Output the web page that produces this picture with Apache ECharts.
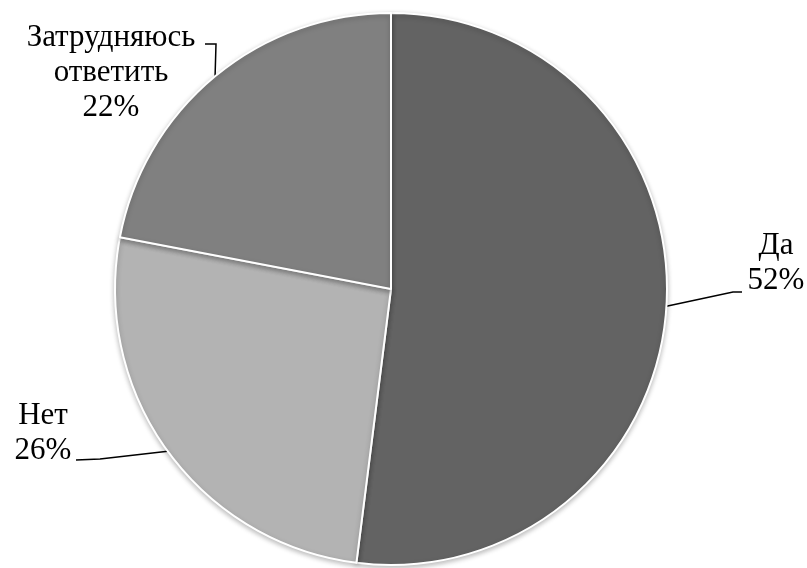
<!DOCTYPE html>
<html>
<head>
<meta charset="utf-8">
<script src="https://cdn.jsdelivr.net/npm/echarts@6/dist/echarts.min.js"></script>
<style>html,body{margin:0;padding:0;background:#fff}#c{width:807px;height:568px}</style>
</head>
<body>
<div id="c"></div>
<script>
var categories = ['Да', 'Нет', 'Затрудняюсь\nответить'];
var values = [52, 26, 22];
var colors = ['#636363', '#b3b3b3', '#808080'];
var labelPos = [[776, 263], [43, 433], [111, 73]];
var lineBends = [[[733, 292], [742, 292]], [[100, 459], [76, 460]], [[216, 44], [205, 44]]];

var chart = echarts.init(document.getElementById('c'), null, {renderer: 'canvas'});
chart.setOption({
  animation: false,
  backgroundColor: '#ffffff',
  series: [{
    type: 'pie',
    center: [391, 289],
    radius: [0, 276],
    startAngle: 90,
    clockwise: true,
    avoidLabelOverlap: false,
    data: categories.map(function (c, i) {
      return {name: c, value: values[i], itemStyle: {color: colors[i]}};
    }),
    itemStyle: {
      borderColor: '#ffffff',
      borderWidth: 2,
      shadowColor: 'rgba(0,0,0,0.25)',
      shadowBlur: 5,
      shadowOffsetY: 2
    },
    label: {
      show: true,
      formatter: function (p) { return p.name + '\n' + p.value + '%'; },
      fontFamily: 'Liberation Serif',
      fontSize: 31,
      lineHeight: 35,
      color: '#000',
      align: 'center'
    },
    labelLine: {
      show: true,
      lineStyle: {color: '#000', width: 1.5}
    },
    labelLayout: function (p) {
      var pos = labelPos[p.dataIndex];
      var start = p.labelLinePoints ? p.labelLinePoints[0] : null;
      var res = {x: pos[0], y: pos[1], align: 'center', verticalAlign: 'middle'};
      if (start) {
        res.labelLinePoints = [start].concat(lineBends[p.dataIndex]);
      }
      return res;
    },
    emphasis: {disabled: true}
  }]
});
</script>
</body>
</html>
